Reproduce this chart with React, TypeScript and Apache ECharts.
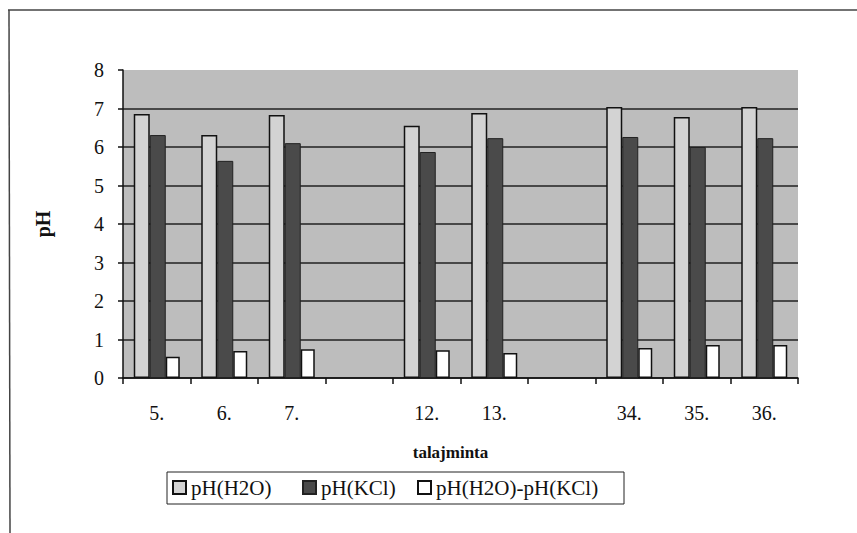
import React, { useEffect, useRef } from "react";
import * as echarts from "echarts";

const categories = ["5.", "6.", "7.", "", "12.", "13.", "", "34.", "35.", "36."];
const phH2O = [6.86, 6.31, 6.83, null, 6.55, 6.88, null, 7.04, 6.78, 7.04];
const phKCl = [6.31, 5.64, 6.1, null, 5.87, 6.23, null, 6.26, 6.0, 6.23];
const phDiff = [0.55, 0.7, 0.75, null, 0.72, 0.65, null, 0.78, 0.86, 0.86];
const yTicks = [0, 1, 2, 3, 4, 5, 6, 7, 8];
const seriesNames = ["pH(H2O)", "pH(KCl)", "pH(H2O)-pH(KCl)"];

const FONT = "'Liberation Serif', 'Times New Roman', serif";
const legendLefts = [172, 302, 417];

export default function App() {
  const ref = useRef<HTMLDivElement>(null);
  useEffect(() => {
    if (!ref.current) return;
    const chart = echarts.init(ref.current, null, { renderer: "svg" });
    chart.setOption({
      animation: false,
      backgroundColor: "#ffffff",
      textStyle: { fontFamily: FONT },
      grid: {
        left: 123,
        right: 59,
        top: 70,
        bottom: 155,
        show: true,
        backgroundColor: "#bdbdbd",
        borderWidth: 0,
      },
      legend: seriesNames.map((n, i) => ({
        left: legendLefts[i],
        top: 477,
        orient: "horizontal",
        itemWidth: 13,
        itemHeight: 13,
        padding: 0,
        borderWidth: 0,
        textStyle: { fontFamily: FONT, fontSize: 21, color: "#111" },
        data: [{ name: n, icon: "rect" }],
      })),
      xAxis: {
        type: "category",
        data: categories,
        name: "talajminta",
        nameLocation: "middle",
        nameGap: 66,
        nameTextStyle: { fontFamily: FONT, fontSize: 17, fontWeight: "bold", color: "#111", padding: [0, 0, 0, -20] },
        axisLine: { show: true, lineStyle: { color: "#111", width: 1.5 } },
        axisTick: { show: true, alignWithLabel: false, inside: false, length: 6, lineStyle: { color: "#111", width: 1.5 } },
        axisLabel: { fontFamily: FONT, fontSize: 20, color: "#111", margin: 25 },
        splitLine: { show: false },
      },
      yAxis: {
        type: "value",
        min: yTicks[0],
        max: yTicks[yTicks.length - 1],
        interval: 1,
        name: "pH",
        nameLocation: "middle",
        nameGap: 70,
        nameRotate: 90,
        nameTextStyle: { fontFamily: FONT, fontSize: 20, fontWeight: "bold", color: "#111" },
        axisLine: { show: true, lineStyle: { color: "#111", width: 1.5 } },
        axisTick: { show: true, length: 5, lineStyle: { color: "#111", width: 1.5 } },
        axisLabel: { fontFamily: FONT, fontSize: 20, color: "#111", margin: 19 },
        splitLine: { show: true, showMaxLine: false, lineStyle: { color: "#222", width: 1.5 } },
      },
      series: [
        {
          name: seriesNames[0],
          type: "bar",
          data: phH2O,
          barWidth: 16,
          barGap: "0%",
          itemStyle: { color: "#d3d3d3", borderColor: "#111", borderWidth: 1.5 },
        },
        {
          name: seriesNames[1],
          type: "bar",
          data: phKCl,
          barWidth: 16,
          barGap: "0%",
          itemStyle: { color: "#4a4a4a", borderColor: "#222", borderWidth: 1 },
        },
        {
          name: seriesNames[2],
          type: "bar",
          data: phDiff,
          barWidth: 14,
          barGap: "0%",
          itemStyle: { color: "#ffffff", borderColor: "#111", borderWidth: 1.5 },
        },
      ],
      graphic: [
        {
          type: "line",
          shape: { x1: 8, y1: 10, x2: 857, y2: 10 },
          style: { stroke: "#444", lineWidth: 1.5 },
        },
        {
          type: "line",
          shape: { x1: 9, y1: 10, x2: 10, y2: 533 },
          style: { stroke: "#444", lineWidth: 1.5 },
        },
        {
          type: "rect",
          shape: { x: 167, y: 472, width: 457, height: 32 },
          style: { fill: "none", stroke: "#222", lineWidth: 1 },
          silent: true,
        },
      ],
    });
    return () => chart.dispose();
  }, []);
  return <div ref={ref} style={{ width: 857, height: 533, position: "absolute", left: 0, top: 0 }} />;
}
